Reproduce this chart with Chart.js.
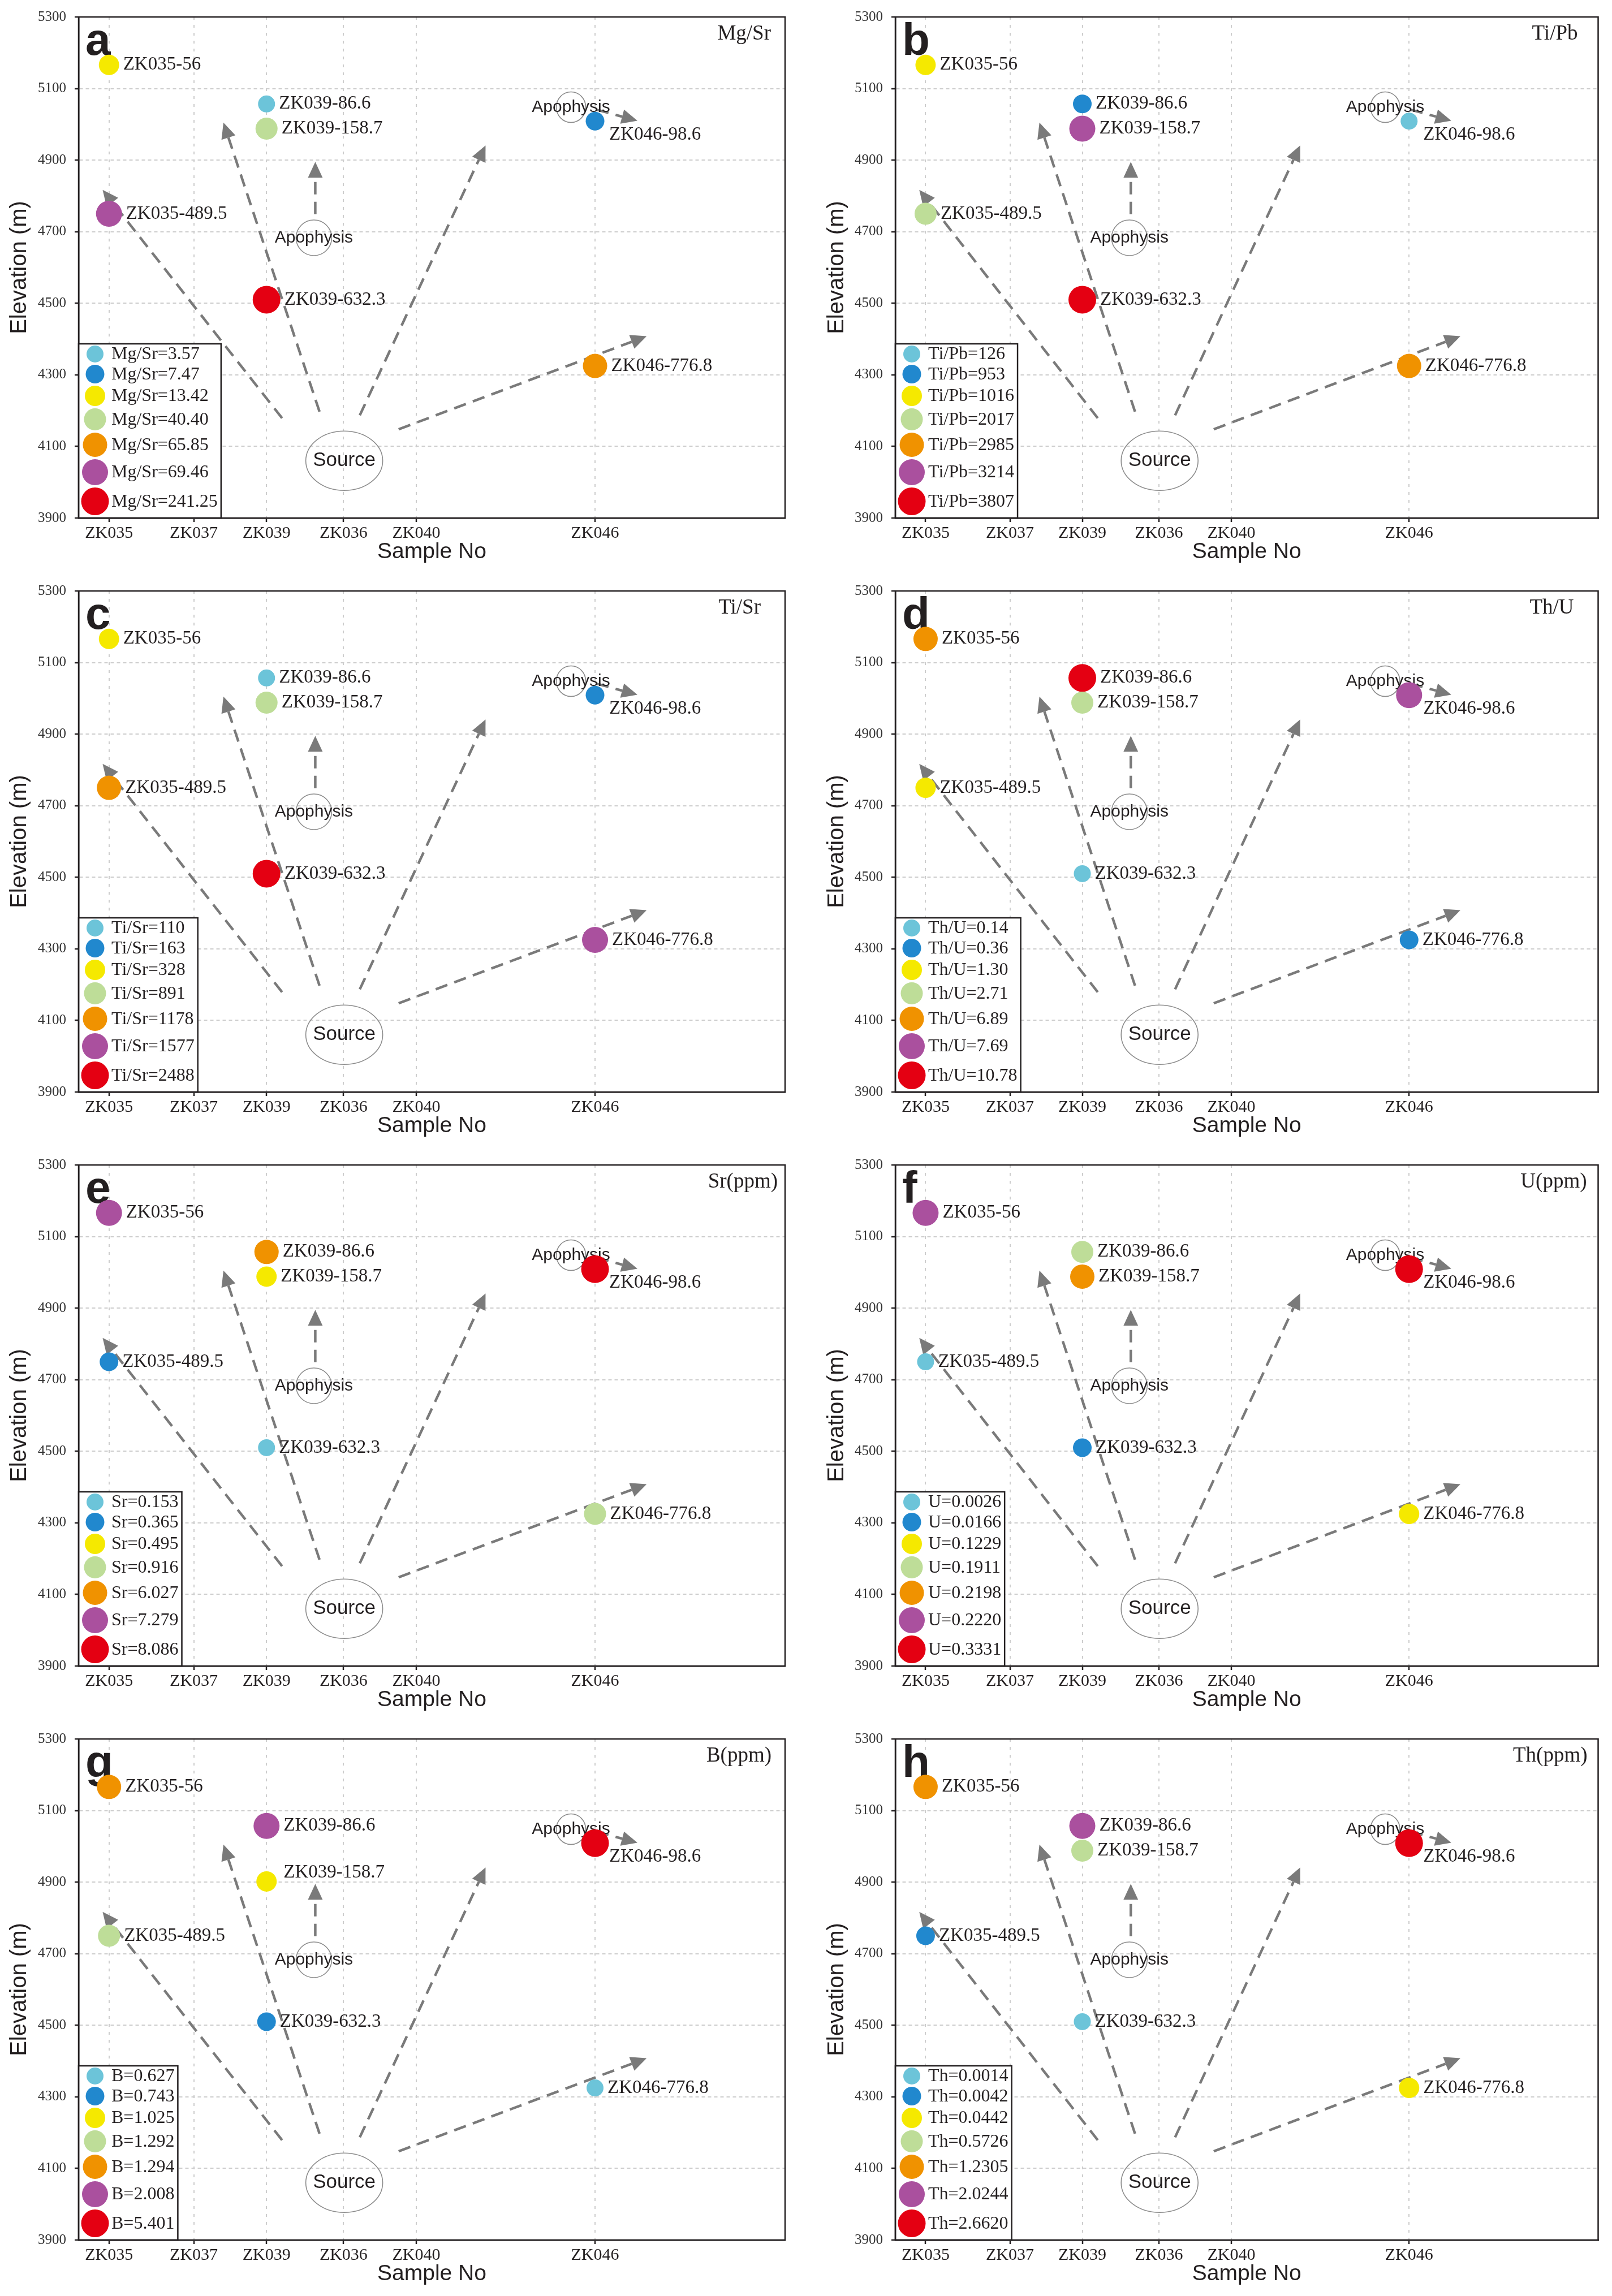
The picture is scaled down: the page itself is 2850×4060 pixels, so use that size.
<!DOCTYPE html>
<html>
<head>
<meta charset="utf-8">
<script src="https://cdn.jsdelivr.net/npm/chart.js@4.4.1/dist/chart.umd.min.js"></script>
<style>
html, body { margin: 0; padding: 0; background: #fff; }
#wrap { position: relative; width: 2850px; height: 4060px; }
#wrap canvas { position: absolute; }
</style>
</head>
<body>
<div id="wrap"></div>
<script>
// boreholes along the section (x axis runs 0-100 across the section)
var boreholes = ['ZK035', 'ZK037', 'ZK039', 'ZK036', 'ZK040', 'ZK046'];
var boreholePos = [4.3, 16.3, 26.6, 37.5, 47.8, 73.1];
var yTicks = [3900, 4100, 4300, 4500, 4700, 4900, 5100, 5300];

// samples
var samples = ['ZK035-56', 'ZK035-489.5', 'ZK039-86.6', 'ZK039-158.7', 'ZK039-632.3', 'ZK046-98.6', 'ZK046-776.8'];
var sampleHole = ['ZK035', 'ZK035', 'ZK039', 'ZK039', 'ZK039', 'ZK046', 'ZK046'];
var elevation = [5166, 4750, 5057, 4988, 4510, 5009, 4325];
var elevationB = [5166, 4750, 5057, 4902, 4510, 5009, 4325];   // as plotted in panel g

// values per sample (same order as samples)
var mgSr = [13.42, 69.46, 3.57, 40.40, 241.25, 7.47, 65.85];
var tiPb = [1016, 2017, 953, 3214, 3807, 126, 2985];
var tiSr = [328, 1178, 110, 891, 2488, 163, 1577];
var thU = [6.89, 1.30, 10.78, 2.71, 0.14, 7.69, 0.36];
var srPpm = [7.279, 0.365, 6.027, 0.495, 0.153, 8.086, 0.916];
var uPpm = [0.2220, 0.0026, 0.1911, 0.2198, 0.0166, 0.3331, 0.1229];
var bPpm = [1.294, 1.292, 2.008, 1.025, 0.743, 5.401, 0.627];
var thPpm = [1.2305, 0.0042, 2.0244, 0.5726, 0.0014, 2.6620, 0.0442];

// sketch annotations, in axis units: [x1, y1, x2, y2]
var arrows = [
  [28.8, 4179, 3.4, 4817],
  [34.1, 4197, 20.5, 5005],
  [33.5, 4749, 33.5, 4895],
  [39.8, 4187, 57.6, 4941],
  [45.3, 4148, 80.4, 4408],
  [73.3, 5041, 79.1, 5010]
];
var bodyNames = ['Source', 'Apophysis', 'Apophysis'];
var bodyX = [37.6, 33.3, 69.7];
var bodyY = [4060, 4683, 5048];

// styles
var rankColors = ['#6cc4d9', '#2188ce', '#f5e900', '#bedd98', '#f09200', '#aa509e', '#e40012'];
var rankRadius = [15, 16.5, 18, 19.5, 21.5, 23, 24.5];
var bodyRx = [68, 31.5, 26], bodyRy = [52.5, 31.5, 27], bodyFont = [35, 30, 30];
var ink = '#231f20';
var serif = '"Liberation Serif", "Times New Roman", serif';
var sans = '"Liberation Sans", Arial, sans-serif';

var panels = [
  { letter: 'a', title: 'Mg/Sr', key: 'Mg/Sr', values: mgSr, dec: 2, elev: elevation, inset: 25 },
  { letter: 'b', title: 'Ti/Pb', key: 'Ti/Pb', values: tiPb, dec: 0, elev: elevation, inset: 36 },
  { letter: 'c', title: 'Ti/Sr', key: 'Ti/Sr', values: tiSr, dec: 0, elev: elevation, inset: 43 },
  { letter: 'd', title: 'Th/U', key: 'Th/U', values: thU, dec: 2, elev: elevation, inset: 43 },
  { letter: 'e', title: 'Sr(ppm)', key: 'Sr', values: srPpm, dec: 3, elev: elevation, inset: 13 },
  { letter: 'f', title: 'U(ppm)', key: 'U', values: uPpm, dec: 4, elev: elevation, inset: 20 },
  { letter: 'g', title: 'B(ppm)', key: 'B', values: bPpm, dec: 3, elev: elevationB, inset: 24 },
  { letter: 'h', title: 'Th(ppm)', key: 'Th', values: thPpm, dec: 4, elev: elevation, inset: 19 }
];

// column geometry: y-axis box width, right padding, y-title padding
var cols = [
  { left: 139, right: 37, tpad: 15 },
  { left: 158, right: 12, tpad: 35 }
];

function rankOf(values) {
  var sorted = values.slice().sort(function (a, b) { return a - b; });
  return values.map(function (v) { return sorted.indexOf(v); });
}

var overlay = {
  id: 'overlay',
  beforeDatasetsDraw: function (chart) {
    var p = chart.options.plugins.overlay.panel;
    var ctx = chart.ctx, xs = chart.scales.x, ys = chart.scales.y, area = chart.chartArea;
    ctx.save();
    // dashed arrows
    ctx.strokeStyle = '#7a7a7a';
    ctx.fillStyle = '#7a7a7a';
    ctx.lineWidth = 4.5;
    arrows.forEach(function (a) {
      var x1 = xs.getPixelForValue(a[0]), y1 = ys.getPixelForValue(a[1]);
      var x2 = xs.getPixelForValue(a[2]), y2 = ys.getPixelForValue(a[3]);
      var ang = Math.atan2(y2 - y1, x2 - x1);
      var hl = 28, hw = 13;
      var bx = x2 - hl * Math.cos(ang), by = y2 - hl * Math.sin(ang);
      ctx.setLineDash([22, 13]);
      ctx.beginPath();
      ctx.moveTo(x1, y1);
      ctx.lineTo(bx, by);
      ctx.stroke();
      ctx.setLineDash([]);
      ctx.beginPath();
      ctx.moveTo(x2, y2);
      ctx.lineTo(bx + hw * Math.sin(ang), by - hw * Math.cos(ang));
      ctx.lineTo(bx - hw * Math.sin(ang), by + hw * Math.cos(ang));
      ctx.closePath();
      ctx.fill();
    });
    // source / apophysis outlines
    ctx.setLineDash([]);
    for (var i = 0; i < bodyNames.length; i++) {
      var cx = xs.getPixelForValue(bodyX[i]), cy = ys.getPixelForValue(bodyY[i]);
      ctx.strokeStyle = '#8c8c8c';
      ctx.lineWidth = 1.6;
      ctx.beginPath();
      ctx.ellipse(cx, cy, bodyRx[i], bodyRy[i], 0, 0, Math.PI * 2);
      ctx.stroke();
      ctx.fillStyle = ink;
      ctx.font = bodyFont[i] + 'px ' + sans;
      ctx.textAlign = 'center';
      ctx.textBaseline = 'middle';
      ctx.fillText(bodyNames[i], cx, cy);
    }
    // panel letter and variable name
    ctx.fillStyle = ink;
    ctx.textAlign = 'left';
    ctx.textBaseline = 'alphabetic';
    ctx.font = 'bold 80px ' + sans;
    ctx.fillText(p.letter, area.left + 12, area.top + 67);
    ctx.textAlign = 'right';
    ctx.font = '37px ' + serif;
    ctx.fillText(p.title, area.right - p.inset, area.top + 40);
    ctx.restore();
  },
  afterDatasetsDraw: function (chart) {
    var p = chart.options.plugins.overlay.panel;
    var ctx = chart.ctx, area = chart.chartArea;
    var ranks = rankOf(p.values);
    var pts = chart.getDatasetMeta(0).data;
    ctx.save();
    // sample labels
    ctx.fillStyle = ink;
    ctx.font = '33px ' + serif;
    ctx.textAlign = 'left';
    ctx.textBaseline = 'middle';
    pts.forEach(function (pt, i) {
      var r = rankRadius[ranks[i]];
      var dx = r + 7, dy = 0;
      if (i === 5) { dx = 25; dy = 24; }
      if (p.letter === 'g' && i === 3) { dx = 30; dy = -16; }
      ctx.fillText(samples[i], pt.x + dx, pt.y + dy);
    });
    // legend box
    var sorted = p.values.slice().sort(function (a, b) { return a - b; });
    var labels = sorted.map(function (v) { return p.key + '=' + v.toFixed(p.dec); });
    ctx.font = '32px ' + serif;
    var tw = 0;
    labels.forEach(function (t) { tw = Math.max(tw, ctx.measureText(t).width); });
    var lx = area.left, top = area.bottom - 308, w = 58 + tw + 6;
    ctx.fillStyle = '#fff';
    ctx.fillRect(lx, top, w, area.bottom - top);
    ctx.strokeStyle = ink;
    ctx.lineWidth = 2.5;
    ctx.strokeRect(lx, top, w, area.bottom - top);
    var cy = top + 3;
    for (var k = 0; k < labels.length; k++) {
      cy += k === 0 ? rankRadius[0] : rankRadius[k - 1] + rankRadius[k] + 4;
      ctx.fillStyle = rankColors[k];
      ctx.beginPath();
      ctx.arc(lx + 29, cy, rankRadius[k], 0, Math.PI * 2);
      ctx.fill();
      ctx.fillStyle = ink;
      ctx.fillText(labels[k], lx + 58, cy + 1);
    }
    // frame
    ctx.strokeStyle = ink;
    ctx.lineWidth = 2.5;
    ctx.strokeRect(area.left, area.top, area.right - area.left, area.bottom - area.top);
    ctx.restore();
  }
};

var wrap = document.getElementById('wrap');

panels.forEach(function (p, n) {
  var col = cols[n % 2];
  var canvas = document.createElement('canvas');
  canvas.width = 1425;
  canvas.height = 1015;
  canvas.style.left = (n % 2) * 1425 + 'px';
  canvas.style.top = Math.floor(n / 2) * 1015 + 'px';
  wrap.appendChild(canvas);

  var ranks = rankOf(p.values);
  var points = samples.map(function (s, i) {
    return { x: boreholePos[boreholes.indexOf(sampleHole[i])], y: p.elev[i] };
  });

  new Chart(canvas.getContext('2d'), {
    type: 'scatter',
    data: {
      datasets: [{
        label: p.title,
        data: points,
        pointRadius: ranks.map(function (r) { return rankRadius[r]; }),
        pointHoverRadius: ranks.map(function (r) { return rankRadius[r]; }),
        pointBackgroundColor: ranks.map(function (r) { return rankColors[r]; }),
        pointBorderWidth: 0,
        borderWidth: 0
      }]
    },
    options: {
      responsive: false,
      devicePixelRatio: 1,
      animation: false,
      events: [],
      layout: { padding: { top: 29, right: col.right, left: 0, bottom: 0 } },
      plugins: {
        legend: { display: false },
        tooltip: { enabled: false },
        overlay: { panel: p }
      },
      scales: {
        x: {
          type: 'linear',
          min: 0,
          max: 100,
          afterBuildTicks: function (s) { s.ticks = boreholePos.map(function (v) { return { value: v }; }); },
          afterFit: function (s) { s.height = 99; },
          grid: { color: '#cdcdcd', lineWidth: 2, tickLength: 7, tickColor: ink, tickWidth: 2.5 },
          border: { display: true, color: ink, width: 2.5, dash: [5, 9] },
          ticks: {
            autoSkip: false,
            maxRotation: 0,
            padding: 2,
            color: ink,
            font: { family: serif, size: 30, lineHeight: 1.2 },
            callback: function (v, i) { return boreholes[i]; }
          },
          title: {
            display: true,
            text: 'Sample No',
            color: ink,
            font: { family: sans, size: 39, lineHeight: 1 },
            padding: { top: 0, bottom: 19 }
          }
        },
        y: {
          min: 3900,
          max: 5300,
          afterBuildTicks: function (s) { s.ticks = yTicks.map(function (v) { return { value: v }; }); },
          afterFit: function (s) { s.width = col.left; },
          grid: { color: '#cdcdcd', lineWidth: 2, tickLength: 7, tickColor: ink, tickWidth: 2.5 },
          border: { display: true, color: ink, width: 2.5, dash: [6, 5] },
          ticks: {
            color: '#333',
            padding: 15,
            font: { family: serif, size: 25 },
            callback: function (v) { return String(v); }
          },
          title: {
            display: true,
            text: 'Elevation (m)',
            color: ink,
            font: { family: sans, size: 40, lineHeight: 1 },
            padding: { top: col.tpad, bottom: 0 }
          }
        }
      }
    },
    plugins: [overlay]
  });
});
</script>
</body>
</html>
